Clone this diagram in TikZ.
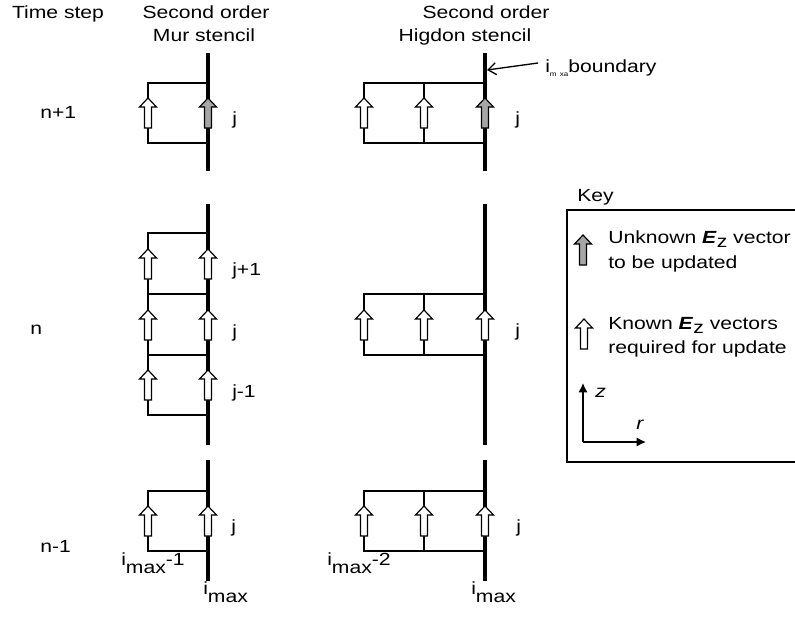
\documentclass[tikz,border=0pt]{standalone}
\usepackage{fontspec}
\setmainfont{Liberation Sans}[FakeStretch=1.2]
\usetikzlibrary{arrows.meta}
\newcommand\lowsub[1]{\raisebox{-6pt}{#1}}
\newcommand\Ez{\textbf{\textit{E}}\raisebox{-3.5pt}{z}}
\begin{document}
\begin{tikzpicture}[x=0.75pt,y=-0.75pt,
  font=\fontsize{13.2pt}{15pt}\selectfont,
  boundary/.style={line width=3pt},
  rail/.style={line width=1.2pt},
  lbl/.style={inner sep=0pt,anchor=base west},
  head/.style={inner sep=0pt,anchor=base},
  pics/evec/.style={code={
    \filldraw[fill=#1,line width=0.9pt,line join=miter]
      (-3.5,15) -- (3.5,15) -- (3.5,-6) -- (8.5,-6) -- (0,-15)
      -- (-8.5,-6) -- (-3.5,-6) -- cycle;}}]
\useasboundingbox (0,0) rectangle (795,617);

% column headings
\node[head] (hts) at (58,19) {Time step};
\node[head] (hm1) at (206,19) {Second order};
\node[head] (hm2) at (204,42) {Mur stencil};
\node[head] (hh1) at (486,19) {Second order};
\node[head] (hh2) at (465,42) {Higdon stencil};

% time step labels
\node[lbl] (tn1) at (40,118) {n+1};
\node[lbl] (tn)  at (30,334) {n};
\node[lbl] (tn0) at (40,552) {n-1};

% boundary lines (i = imax)
\foreach \x in {208,485}{
  \draw[boundary] (\x,53) -- (\x,171);
  \draw[boundary] (\x,204) -- (\x,445);
  \draw[boundary] (\x,460) -- (\x,581);
}

% ---- Mur stencil ----
% n+1
\draw[rail] (208,83) -- (148,83) -- (148,143) -- (208,143);
\pic at (148,113) {evec=white};
\pic at (208,113) {evec=black!35};
\node[lbl] (mj1) at (232,124) {j};
% n
\draw[rail] (208,233) -- (148,233) -- (148,415) -- (208,415);
\draw[rail] (148,294) -- (208,294);
\draw[rail] (148,355) -- (208,355);
\foreach \y in {264,325,385}{
  \pic at (148,\y) {evec=white};
  \pic at (208,\y) {evec=white};
}
\node[lbl] (mjp) at (232,275) {j+1};
\node[lbl] (mj2) at (232,337) {j};
\node[lbl] (mjm) at (232,397) {j-1};
% n-1
\draw[rail] (208,491) -- (148,491) -- (148,551) -- (208,551);
\pic at (148,521) {evec=white};
\pic at (208,521) {evec=white};
\node[lbl] (mj3) at (231,532) {j};
\node[lbl] (mi1) at (121,565) {i\lowsub{max}-1};
\node[lbl] (mi0) at (203,594) {i\lowsub{max}};

% ---- Higdon stencil ----
% n+1
\draw[rail] (485,83) -- (364,83) -- (364,143) -- (485,143);
\draw[rail] (424,83) -- (424,143);
\pic at (364,113) {evec=white};
\pic at (424,113) {evec=white};
\pic at (485,113) {evec=black!35};
\node[lbl] (hj1) at (515,124) {j};
% n
\draw[rail] (485,294) -- (364,294) -- (364,355) -- (485,355);
\draw[rail] (424,294) -- (424,355);
\foreach \x in {364,424,485}{\pic at (\x,325) {evec=white};}
\node[lbl] (hj2) at (515,336) {j};
% n-1
\draw[rail] (485,491) -- (364,491) -- (364,551) -- (485,551);
\draw[rail] (424,491) -- (424,551);
\foreach \x in {364,424,485}{\pic at (\x,521) {evec=white};}
\node[lbl] (hj3) at (516,532) {j};
\node[lbl] (hi2) at (327,565) {i\lowsub{max}-2};
\node[lbl] (hi0) at (471,594) {i\lowsub{max}};

% boundary pointer
\node[lbl] (bnd) at (545,73) {i{\fontsize{5pt}{5pt}\selectfont\raisebox{-2.5pt}{m\,\,\,xa}}boundary};
\coordinate (bstart) at (538,63);
\coordinate (btip) at (487,70);
\draw[line width=1pt,-{Straight Barb[length=6pt,width=9pt]}] (bstart) -- (btip);

% ---- key ----
\node[lbl] (key) at (577,201) {Key};
\draw[line width=1.2pt] (567,210) rectangle (800,462);
\pic at (583,250) {evec=black!35};
\node[lbl] (k1a) at (608,243) {Unknown \Ez{} vector};
\node[lbl] (k1b) at (608,268) {to be updated};
\pic at (584,334) {evec=white};
\node[lbl] (k2a) at (608,329) {Known \Ez{} vectors};
\node[lbl] (k2b) at (608,353) {required for update};
% axes
\coordinate (org) at (583,442);
\coordinate (zend) at (583,383);
\coordinate (rend) at (646,442);
\draw[line width=1.2pt,-{Latex[length=7pt,width=7pt]}] (org) -- (zend);
\draw[line width=1.2pt,-{Latex[length=7pt,width=7pt]}] (org) -- (rend);
\node[lbl] (zl) at (595,397) {\textit{z}};
\node[lbl] (rl) at (636,429) {\textit{r}};
\end{tikzpicture}
\end{document}
